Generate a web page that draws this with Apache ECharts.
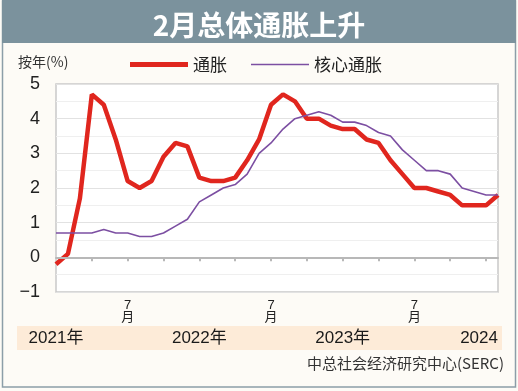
<!DOCTYPE html>
<html>
<head>
<meta charset="utf-8">
<script src="https://cdn.jsdelivr.net/npm/echarts@6/dist/echarts.min.js"></script>
<style>
html,body{margin:0;padding:0;background:#fff;}
#chart{width:518px;height:391px;}
</style>
</head>
<body>
<div id="chart"></div>
<script>
const months = [
  '2021-01','2021-02','2021-03','2021-04','2021-05','2021-06','2021-07','2021-08','2021-09','2021-10','2021-11','2021-12',
  '2022-01','2022-02','2022-03','2022-04','2022-05','2022-06','2022-07','2022-08','2022-09','2022-10','2022-11','2022-12',
  '2023-01','2023-02','2023-03','2023-04','2023-05','2023-06','2023-07','2023-08','2023-09','2023-10','2023-11','2023-12',
  '2024-01','2024-02'
];
const headline = [
  -0.2, 0.1, 1.7, 4.7, 4.4, 3.4, 2.2, 2.0, 2.2, 2.9, 3.3, 3.2,
  2.3, 2.2, 2.2, 2.3, 2.8, 3.4, 4.4, 4.7, 4.5, 4.0, 4.0, 3.8,
  3.7, 3.7, 3.4, 3.3, 2.8, 2.4, 2.0, 2.0, 1.9, 1.8, 1.5, 1.5,
  1.5, 1.8
];
const core = [
  0.7, 0.7, 0.7, 0.7, 0.8, 0.7, 0.7, 0.6, 0.6, 0.7, 0.9, 1.1,
  1.6, 1.8, 2.0, 2.1, 2.4, 3.0, 3.3, 3.7, 4.0, 4.1, 4.2, 4.1,
  3.9, 3.9, 3.8, 3.6, 3.5, 3.1, 2.8, 2.5, 2.5, 2.4, 2.0, 1.9,
  1.8, 1.8
];
const monthLabels = {'2021-07':'7\n月','2022-07':'7\n月','2023-07':'7\n月'};
const yearLabels = {'2021-01':'2021年','2022-01':'2022年','2023-01':'2023年','2024-01':'2024'};
const seriesNames = ['通胀','核心通胀'];
const titleText = '2月总体通胀上升';
const unitText = '按年(%)';
const sourceText = '中总社会经济研究中心(SERC)';

const FONT = '"Liberation Sans", "Noto Sans CJK SC", sans-serif';
const chart = echarts.init(document.getElementById('chart'), null, {renderer:'canvas'});
chart.setOption({
  backgroundColor: '#fdfbf6',
  animation: false,
  textStyle: {fontFamily: FONT},
  title: {
    text: titleText, left: 'center', top: 6,
    textStyle: {color:'#ffffff', fontSize: 28, fontWeight: 'bold', fontFamily: '"Noto Sans CJK SC", sans-serif'}
  },
  graphic: [
    {type:'rect', z:-10, silent:true, shape:{x:2.5,y:1,width:513,height:386}, style:{fill:'#fdfbf6', stroke:'#8c9ea8', lineWidth:1.5}},
    {type:'rect', z:-9, silent:true, shape:{x:2,y:0,width:514,height:43}, style:{fill:'#7b929d'}},
    {type:'rect', z:-9, silent:true, shape:{x:17,y:326,width:485,height:24}, style:{fill:'#fdebd8'}},
    {type:'text', left:18, top:55, style:{text:unitText, fill:'#333', fontSize:14, fontFamily:'"Noto Sans CJK SC", sans-serif'}},
    {type:'text', right:14, top:356, style:{text:sourceText, fill:'#333', fontSize:15, fontFamily:'"Noto Sans CJK SC", sans-serif'}}
  ],
  legend: {
    left: 125, top: 51,
    itemWidth: 58, itemHeight: 14, itemGap: 24,
    symbolKeepAspect: true,
    textStyle: {fontSize: 17, color:'#222', fontFamily:'"Noto Sans CJK SC", sans-serif'},
    data: [
      {name: seriesNames[0], icon: 'path://M0,0H58V5H0Z'},
      {name: seriesNames[1], icon: 'path://M0,0H56V1.6H0Z'}
    ]
  },
  grid: {left: 56, right: 20, top: 84, bottom: 99, show: true, backgroundColor:'#ffffff', borderColor:'#c9c9c9', borderWidth:1.5},
  xAxis: [
    {
      type:'category', data: months, boundaryGap:false, z: 5,
      axisLine:{onZero:true, lineStyle:{color:'#b8b8b8', width:2}},
      axisTick:{show:true, length:4, interval: function(i){return i % 3 === 0 && i > 0;}, lineStyle:{color:'#b8b8b8', width:2}},
      axisLabel:{show:false}, splitLine:{show:false}
    },
    {
      type:'category', data: months, boundaryGap:false, position:'bottom', z: 5,
      axisLine:{show:false, onZero:false}, axisTick:{show:false}, splitLine:{show:false},
      axisLabel:{
        show:true, margin:7, fontSize:13, lineHeight:12, color:'#222',
        interval: function(i, v){ return monthLabels[v] !== undefined; },
        formatter: function(v){ return monthLabels[v] || ''; }
      }
    },
    {
      type:'category', data: months, boundaryGap:false, position:'bottom', z: 5,
      axisLine:{show:false, onZero:false}, axisTick:{show:false}, splitLine:{show:false},
      axisLabel:{
        show:true, margin:38, fontSize:17, color:'#1a1a1a',
        interval: function(i, v){ return yearLabels[v] !== undefined; },
        formatter: function(v){ return v === '2024-01' ? '{r|' + yearLabels[v] + '}' : yearLabels[v] || ''; },
        rich: {r:{fontSize:17, color:'#1a1a1a', padding:[0,14,0,0]}}
      }
    }
  ],
  yAxis: {
    type:'value', min:-1, max:5, interval:1,
    axisLine:{show:false}, axisTick:{show:false},
    axisLabel:{fontSize:18, color:'#222', margin:16, formatter: function(v){ return v < 0 ? '\u2212' + Math.abs(v) : String(v); }},
    splitLine:{show:true, lineStyle:{color:'#e2e2e2', width:1}},
    minorTick:{show:false, splitNumber:2},
    minorSplitLine:{show:true, lineStyle:{color:'#efefef', width:1}}
  },
  series: [
    {name: seriesNames[0], type:'line', data: headline, symbol:'none', xAxisIndex:0,
     lineStyle:{color:'#e0261e', width:4.5}, itemStyle:{color:'#e0261e'}, z:3},
    {name: seriesNames[1], type:'line', data: core, symbol:'none', xAxisIndex:0,
     lineStyle:{color:'#7c4fa2', width:1.6}, itemStyle:{color:'#7c4fa2'}, z:4}
  ]
});
</script>
</body>
</html>
